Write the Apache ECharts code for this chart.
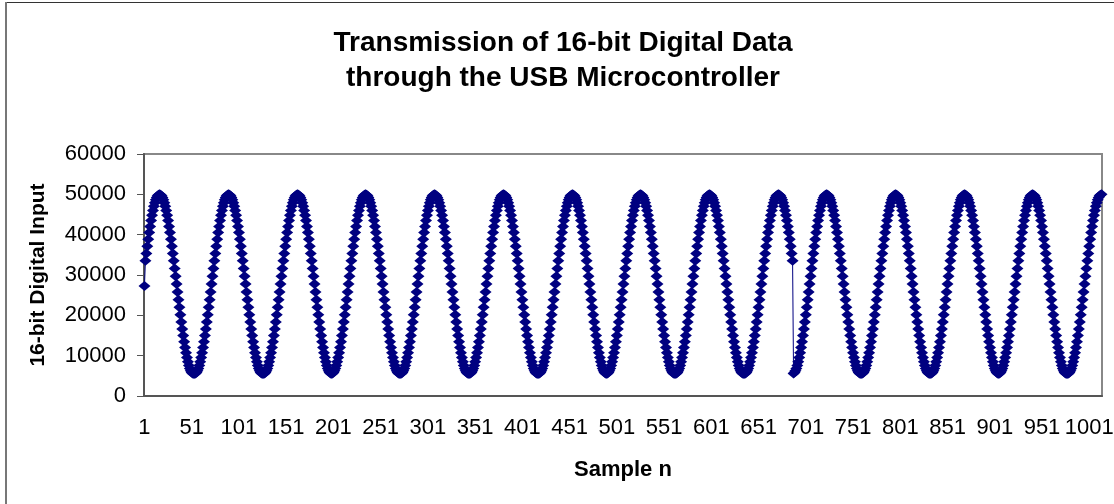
<!DOCTYPE html>
<html>
<head>
<meta charset="utf-8">
<script src="https://cdn.jsdelivr.net/npm/echarts@6/dist/echarts.min.js"></script>
<style>
html,body{margin:0;padding:0;background:#fff;}
#chart{width:1114px;height:504px;}
</style>
</head>
<body>
<div id="chart"></div>
<script>
const chartTitle = 'Transmission of 16-bit Digital Data\nthrough the USB Microcontroller';
const xAxisTitle = 'Sample n';
const yAxisTitle = '16-bit Digital Input';
const yTicks = [0, 10000, 20000, 30000, 40000, 50000, 60000];

// 16-bit samples (sample 1 .. 1014)
const sampleValues = [
27300,
33508,35360,37153,38875,40513,42052,43483,44794,45977,47019,47915,48658,49241,49662,49915,50000,
49915,49662,49241,48658,47915,47019,45977,44794,43483,42052,40513,38875,37153,35360,33508,31613,29690,27750,25810,23887,21992,20140,18347,16625,14987,13448,12017,10706,9523,8481,7585,6842,6259,5838,5585,5500,5500,5585,5838,6259,6842,7585,8481,9523,10706,12017,13448,14987,16625,18347,20140,21992,23887,25810,27750,29690,31613,33508,35360,37153,38875,40513,42052,43483,44794,45977,47019,47915,48658,49241,49662,49915,50000,
49915,49662,49241,48658,47915,47019,45977,44794,43483,42052,40513,38875,37153,35360,33508,31613,29690,27750,25810,23887,21992,20140,18347,16625,14987,13448,12017,10706,9523,8481,7585,6842,6259,5838,5585,5500,5500,5585,5838,6259,6842,7585,8481,9523,10706,12017,13448,14987,16625,18347,20140,21992,23887,25810,27750,29690,31613,33508,35360,37153,38875,40513,42052,43483,44794,45977,47019,47915,48658,49241,49662,49915,50000,
49915,49662,49241,48658,47915,47019,45977,44794,43483,42052,40513,38875,37153,35360,33508,31613,29690,27750,25810,23887,21992,20140,18347,16625,14987,13448,12017,10706,9523,8481,7585,6842,6259,5838,5585,5500,5585,5838,6259,6842,7585,8481,9523,10706,12017,13448,14987,16625,18347,20140,21992,23887,25810,27750,29690,31613,33508,35360,37153,38875,40513,42052,43483,44794,45977,47019,47915,48658,49241,49662,49915,50000,
49915,49662,49241,48658,47915,47019,45977,44794,43483,42052,40513,38875,37153,35360,33508,31613,29690,27750,25810,23887,21992,20140,18347,16625,14987,13448,12017,10706,9523,8481,7585,6842,6259,5838,5585,5500,5500,5585,5838,6259,6842,7585,8481,9523,10706,12017,13448,14987,16625,18347,20140,21992,23887,25810,27750,29690,31613,33508,35360,37153,38875,40513,42052,43483,44794,45977,47019,47915,48658,49241,49662,49915,50000,
49915,49662,49241,48658,47915,47019,45977,44794,43483,42052,40513,38875,37153,35360,33508,31613,29690,27750,25810,23887,21992,20140,18347,16625,14987,13448,12017,10706,9523,8481,7585,6842,6259,5838,5585,5500,5500,5585,5838,6259,6842,7585,8481,9523,10706,12017,13448,14987,16625,18347,20140,21992,23887,25810,27750,29690,31613,33508,35360,37153,38875,40513,42052,43483,44794,45977,47019,47915,48658,49241,49662,49915,50000,
49915,49662,49241,48658,47915,47019,45977,44794,43483,42052,40513,38875,37153,35360,33508,31613,29690,27750,25810,23887,21992,20140,18347,16625,14987,13448,12017,10706,9523,8481,7585,6842,6259,5838,5585,5500,5500,5585,5838,6259,6842,7585,8481,9523,10706,12017,13448,14987,16625,18347,20140,21992,23887,25810,27750,29690,31613,33508,35360,37153,38875,40513,42052,43483,44794,45977,47019,47915,48658,49241,49662,49915,50000,
49915,49662,49241,48658,47915,47019,45977,44794,43483,42052,40513,38875,37153,35360,33508,31613,29690,27750,25810,23887,21992,20140,18347,16625,14987,13448,12017,10706,9523,8481,7585,6842,6259,5838,5585,5500,5585,5838,6259,6842,7585,8481,9523,10706,12017,13448,14987,16625,18347,20140,21992,23887,25810,27750,29690,31613,33508,35360,37153,38875,40513,42052,43483,44794,45977,47019,47915,48658,49241,49662,49915,50000,
49915,49662,49241,48658,47915,47019,45977,44794,43483,42052,40513,38875,37153,35360,33508,31613,29690,27750,25810,23887,21992,20140,18347,16625,14987,13448,12017,10706,9523,8481,7585,6842,6259,5838,5585,5500,5500,5585,5838,6259,6842,7585,8481,9523,10706,12017,13448,14987,16625,18347,20140,21992,23887,25810,27750,29690,31613,33508,35360,37153,38875,40513,42052,43483,44794,45977,47019,47915,48658,49241,49662,49915,50000,
49915,49662,49241,48658,47915,47019,45977,44794,43483,42052,40513,38875,37153,35360,33508,31613,29690,27750,25810,23887,21992,20140,18347,16625,14987,13448,12017,10706,9523,8481,7585,6842,6259,5838,5585,5500,5500,5585,5838,6259,6842,7585,8481,9523,10706,12017,13448,14987,16625,18347,20140,21992,23887,25810,27750,29690,31613,33508,35360,37153,38875,40513,42052,43483,44794,45977,47019,47915,48658,49241,49662,49915,50000,
49915,49662,49241,48658,47915,47019,45977,44794,43483,42052,40513,38875,37153,35360,33508,
5585,5838,6259,6842,7585,8481,9523,10706,12017,13448,14987,16625,18347,20140,21992,23887,25810,27750,29690,31613,33508,35360,37153,38875,40513,42052,43483,44794,45977,47019,47915,48658,49241,49662,49915,50000,
49915,49662,49241,48658,47915,47019,45977,44794,43483,42052,40513,38875,37153,35360,33508,31613,29690,27750,25810,23887,21992,20140,18347,16625,14987,13448,12017,10706,9523,8481,7585,6842,6259,5838,5585,5500,5500,5585,5838,6259,6842,7585,8481,9523,10706,12017,13448,14987,16625,18347,20140,21992,23887,25810,27750,29690,31613,33508,35360,37153,38875,40513,42052,43483,44794,45977,47019,47915,48658,49241,49662,49915,50000,
49915,49662,49241,48658,47915,47019,45977,44794,43483,42052,40513,38875,37153,35360,33508,31613,29690,27750,25810,23887,21992,20140,18347,16625,14987,13448,12017,10706,9523,8481,7585,6842,6259,5838,5585,5500,5500,5585,5838,6259,6842,7585,8481,9523,10706,12017,13448,14987,16625,18347,20140,21992,23887,25810,27750,29690,31613,33508,35360,37153,38875,40513,42052,43483,44794,45977,47019,47915,48658,49241,49662,49915,50000,
49915,49662,49241,48658,47915,47019,45977,44794,43483,42052,40513,38875,37153,35360,33508,31613,29690,27750,25810,23887,21992,20140,18347,16625,14987,13448,12017,10706,9523,8481,7585,6842,6259,5838,5585,5500,5585,5838,6259,6842,7585,8481,9523,10706,12017,13448,14987,16625,18347,20140,21992,23887,25810,27750,29690,31613,33508,35360,37153,38875,40513,42052,43483,44794,45977,47019,47915,48658,49241,49662,49915,50000,
49915,49662,49241,48658,47915,47019,45977,44794,43483,42052,40513,38875,37153,35360,33508,31613,29690,27750,25810,23887,21992,20140,18347,16625,14987,13448,12017,10706,9523,8481,7585,6842,6259,5838,5585,5500,5500,5585,5838,6259,6842,7585,8481,9523,10706,12017,13448,14987,16625,18347,20140,21992,23887,25810,27750,29690,31613,33508,35360,37153,38875,40513,42052,43483,44794,45977,47019,47915,48658,49241,49662,49915,50000
];
const sampleNumbers = sampleValues.map((_, i) => String(i + 1));

const FONT = '"Liberation Sans", Arial, Helvetica, sans-serif';
const chart = echarts.init(document.getElementById('chart'), null, {renderer: 'canvas'});
chart.setOption({
  animation: false,
  backgroundColor: '#ffffff',
  title: {
    text: chartTitle,
    left: 563,
    top: 26,
    textAlign: 'center',
    padding: 0,
    textStyle: {fontFamily: FONT, fontSize: 28, fontWeight: 'bold', color: '#000', lineHeight: 35}
  },
  graphic: [
    {type: 'line', silent: true, shape: {x1: 6, y1: 2.5, x2: 1114, y2: 2.5}, style: {stroke: '#333', lineWidth: 1}},
    {type: 'line', silent: true, shape: {x1: 6, y1: 2, x2: 6, y2: 504}, style: {stroke: '#777', lineWidth: 2}}
  ],
  grid: {
    left: 144, right: 12, top: 154, bottom: 108,
    show: true, borderColor: '#888', borderWidth: 2,
    containLabel: false, outerBoundsMode: 'none'
  },
  xAxis: {
    type: 'category',
    data: sampleNumbers,
    boundaryGap: true,
    name: xAxisTitle,
    nameLocation: 'middle',
    nameGap: 63,
    nameTextStyle: {fontFamily: FONT, fontSize: 22, fontWeight: 'bold', color: '#000'},
    axisLine: {show: true, lineStyle: {color: '#555', width: 2}},
    axisTick: {show: false},
    axisLabel: {interval: 49, margin: 21, fontFamily: FONT, fontSize: 22, color: '#000'},
    splitLine: {show: false}
  },
  yAxis: {
    type: 'value',
    min: yTicks[0],
    max: yTicks[yTicks.length - 1],
    interval: 10000,
    name: yAxisTitle,
    nameLocation: 'middle',
    nameGap: 95,
    nameRotate: 90,
    nameTextStyle: {fontFamily: FONT, fontSize: 21, fontWeight: 'bold', color: '#000'},
    axisLine: {show: true, lineStyle: {color: '#555', width: 2}},
    axisTick: {show: true, inside: false, length: 7, lineStyle: {color: '#555', width: 1}},
    axisLabel: {margin: 18, fontFamily: FONT, fontSize: 22, color: '#000', formatter: v => String(v)},
    splitLine: {show: false}
  },
  series: [{
    type: 'line',
    data: sampleValues,
    symbol: 'diamond',
    symbolSize: [12, 10],
    showAllSymbol: true,
    lineStyle: {color: '#000080', width: 1},
    itemStyle: {color: '#000080', borderWidth: 0},
    emphasis: {disabled: true}
  }]
});
</script>
</body>
</html>
